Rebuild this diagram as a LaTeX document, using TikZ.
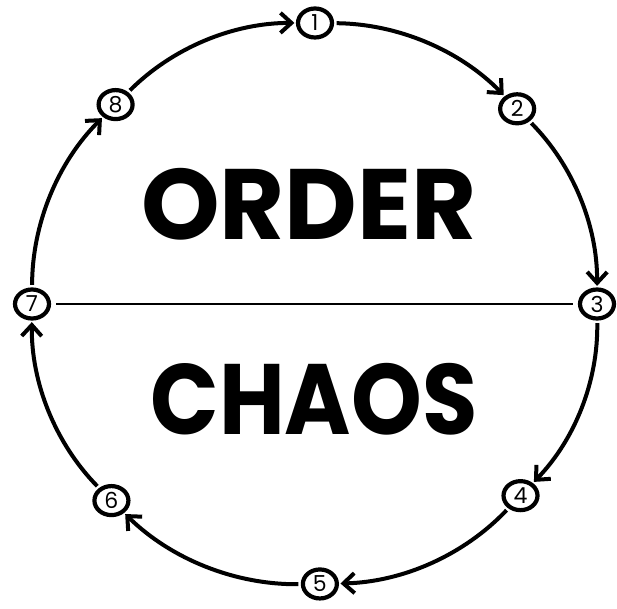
\documentclass[tikz,border=0pt]{standalone}
\usepackage{fontspec}
\setmainfont{Poppins}
\usetikzlibrary{arrows.meta,shapes.geometric,calc}
\begin{document}
\begin{tikzpicture}[x=1pt,y=1pt,
  num/.style={ellipse,draw,line width=4.2pt,minimum width=34pt,minimum height=29pt,inner sep=0pt,font=\fontsize{22}{22}\selectfont},
  flow/.style={line width=4pt,-{Straight Barb[length=11pt,width=20pt,line width=4pt]},bend left=22.5,looseness=0.885,shorten >=1.5pt,shorten <=2.5pt},
  big/.style={font=\fontsize{100}{100}\selectfont\bfseries,inner sep=0pt}]
\useasboundingbox (0,0) rectangle (617,608);
\coordinate (c) at (315,304);
\node[num] (n1) at ($(c)+(90:281)$) {1};
\node[num] (n2) at ($(c)+(44:281)$) {2};
\node[num] (n3) at ($(c)+(0:282)$) {3};
\node[num] (n4) at ($(c)+(-43:281)$) {4};
\node[num] (n5) at ($(c)+(-89:280)$) {5};
\node[num] (n6) at ($(c)+(-136:283)$) {6};
\node[num] (n7) at ($(c)+(180:283)$) {7};
\node[num] (n8) at ($(c)+(135:282)$) {8};
\draw[flow] (n8) to (n1);
\draw[flow] (n1) to (n2);
\draw[flow] (n2) to (n3);
\draw[flow] (n3) to (n4);
\draw[flow] (n4) to (n5);
\draw[flow] (n5) to (n6);
\draw[flow] (n6) to (n7);
\draw[flow] (n7) to (n8);
\draw[line width=2.2pt,shorten <=5pt,shorten >=5pt] (n7) -- (n3);
\node[big] (order) at (309,404) {ORDER};
\node[big,xscale=0.9] (chaos) at (314,209) {CHAOS};
\end{tikzpicture}
\end{document}
